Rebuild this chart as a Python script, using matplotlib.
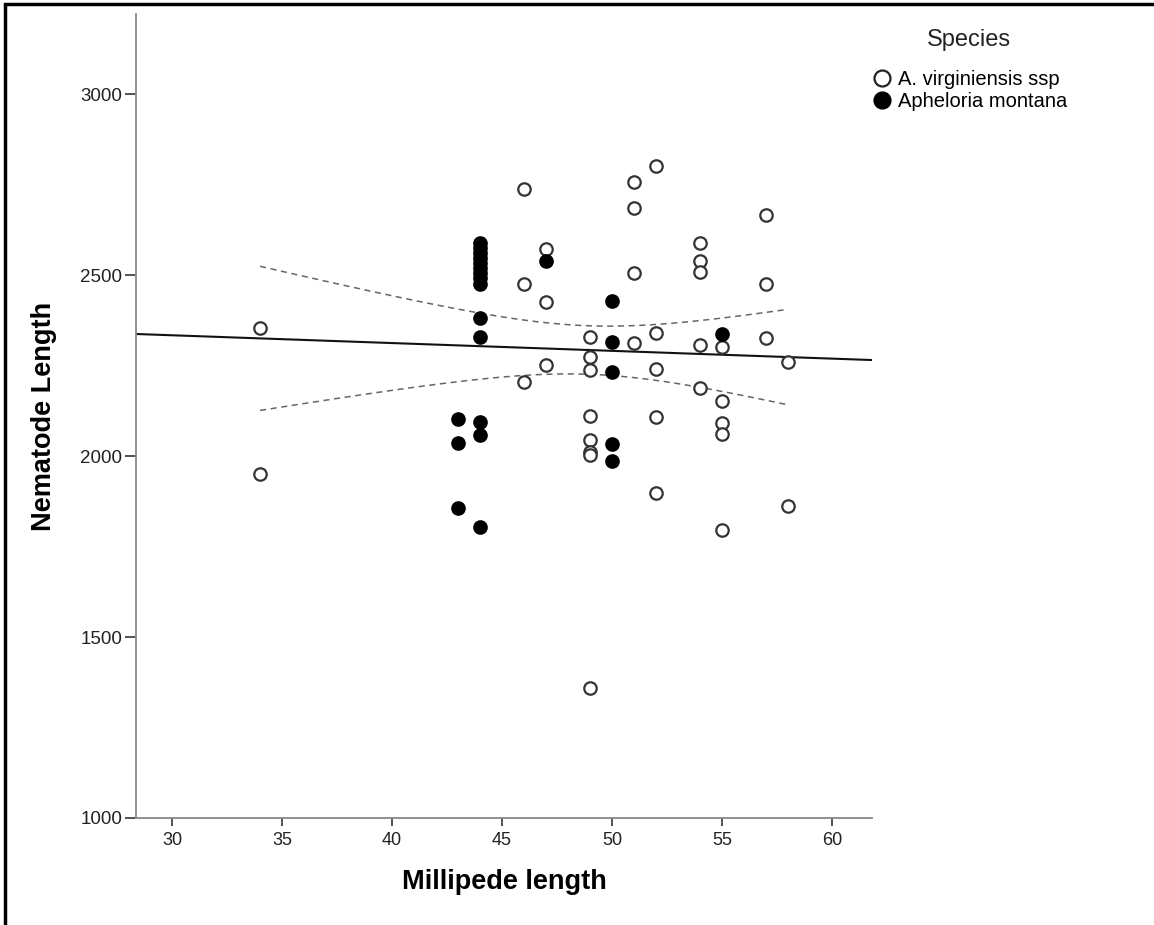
import numpy as np
import matplotlib.pyplot as plt
from matplotlib.lines import Line2D
from matplotlib.patches import Rectangle

plt.rcParams['font.family'] = ['Liberation Sans', 'DejaVu Sans']

# A. virginiensis ssp (open circles)
virg_x = [34, 34, 46, 46, 46, 47, 47, 47, 49, 49, 49, 49, 49, 49, 49, 49,
          51, 51, 51, 51, 52, 52, 52, 52, 52, 54, 54, 54, 54, 54,
          55, 55, 55, 55, 55, 57, 57, 57, 58, 58]
virg_y = [2354, 1950, 2738, 2475, 2204, 2572, 2425, 2251,
          2329, 2273, 2238, 2111, 2044, 2011, 2003, 1359,
          2757, 2685, 2506, 2312, 2801, 2340, 2240, 2108, 1898,
          2588, 2539, 2508, 2307, 2188, 2301, 2152, 2091, 2061, 1796,
          2666, 2475, 2326, 2260, 1862]

# Apheloria montana (filled circles)
mont_x = [43, 43, 43, 44, 44, 44, 44, 44, 44, 44, 44, 44, 44, 44, 44, 44, 44,
          47, 50, 50, 50, 50, 50, 55]
mont_y = [2102, 2036, 1856, 2588, 2575, 2561, 2547, 2533, 2519, 2506, 2492,
          2475, 2381, 2329, 2094, 2058, 1804,
          2539, 2428, 2315, 2232, 2033, 1986, 2337]

species = ['A. virginiensis ssp', 'Apheloria montana']

# fit line and 95% CI of the mean
fit_slope = -2.15
fit_intercept = 2398
ci_center = 48.94     # x where the band is narrowest
ci_half_min = 67      # half width there
ci_spread = 12.55     # growth of the half width away from the centre

fig = plt.figure(figsize=(11.54, 9.25), dpi=100)
ax = fig.add_axes([136 / 1154, 107 / 925, 736 / 1154, 804 / 925])

xmin, xmax = 28.36, 61.82
line_x = np.array([xmin, xmax])
ax.plot(line_x, fit_intercept + fit_slope * line_x, color='#111111', lw=1.5, zorder=2)

all_x = np.array(virg_x + mont_x, dtype=float)
ci_x = np.linspace(all_x.min(), all_x.max(), 100)
ci_fit = fit_intercept + fit_slope * ci_x
half = np.sqrt(ci_half_min ** 2 + (ci_spread * (ci_x - ci_center)) ** 2)
for band in (ci_fit + half, ci_fit - half):
    ax.plot(ci_x, band, color='#666666', lw=1.1, ls=(0, (4, 3)), zorder=2)

ax.scatter(virg_x, virg_y, s=80, facecolors='white', edgecolors='#333333',
           linewidths=1.6, zorder=3)
ax.scatter(mont_x, mont_y, s=80, facecolors='black', edgecolors='black',
           linewidths=1.6, zorder=4)

ax.set_xlim(xmin, xmax)
ax.set_ylim(1000, 3221)
ax.set_xticks([30, 35, 40, 45, 50, 55, 60])
ax.set_yticks([1000, 1500, 2000, 2500, 3000])

for side in ('top', 'right'):
    ax.spines[side].set_visible(False)
for side in ('left', 'bottom'):
    ax.spines[side].set_color('#888888')
    ax.spines[side].set_linewidth(1.3)

ax.tick_params(axis='x', length=6, width=1.3, color='#444444', pad=4,
               labelsize=13, labelcolor='#222222')
ax.tick_params(axis='y', length=8, width=1.3, color='#444444', pad=2,
               labelsize=13.5, labelcolor='#222222')

ax.set_xlabel('Millipede length', fontsize=19.5, fontweight='bold')
ax.xaxis.set_label_coords(0.5, -0.064)
ax.set_ylabel('Nematode Length', fontsize=19.5, fontweight='bold')
ax.yaxis.set_label_coords(-0.107, 0.5)

handles = [
    Line2D([], [], ls='none', marker='o', markersize=11.5, markerfacecolor='white',
           markeredgecolor='#222222', markeredgewidth=1.6),
    Line2D([], [], ls='none', marker='o', markersize=11.5, markerfacecolor='black',
           markeredgecolor='black', markeredgewidth=1.6),
]
fig.text(969 / 1154, 1 - 40 / 925, 'Species', ha='center', va='center',
         fontsize=17, color='#222222')
fig.legend(handles, species, loc='upper left',
           bbox_to_anchor=(873 / 1154, 1 - 70 / 925), frameon=False,
           fontsize=14.5, handlelength=0.9, handletextpad=0.35, borderpad=0,
           labelspacing=0.15, borderaxespad=0)

fig.add_artist(Rectangle((4.5 / 1154, -0.1), 1.2, 1.1 - 4.5 / 925,
                         transform=fig.transFigure, fill=False,
                         edgecolor='black', lw=2.5, clip_on=False))

fig.savefig('out.png', dpi=100)
